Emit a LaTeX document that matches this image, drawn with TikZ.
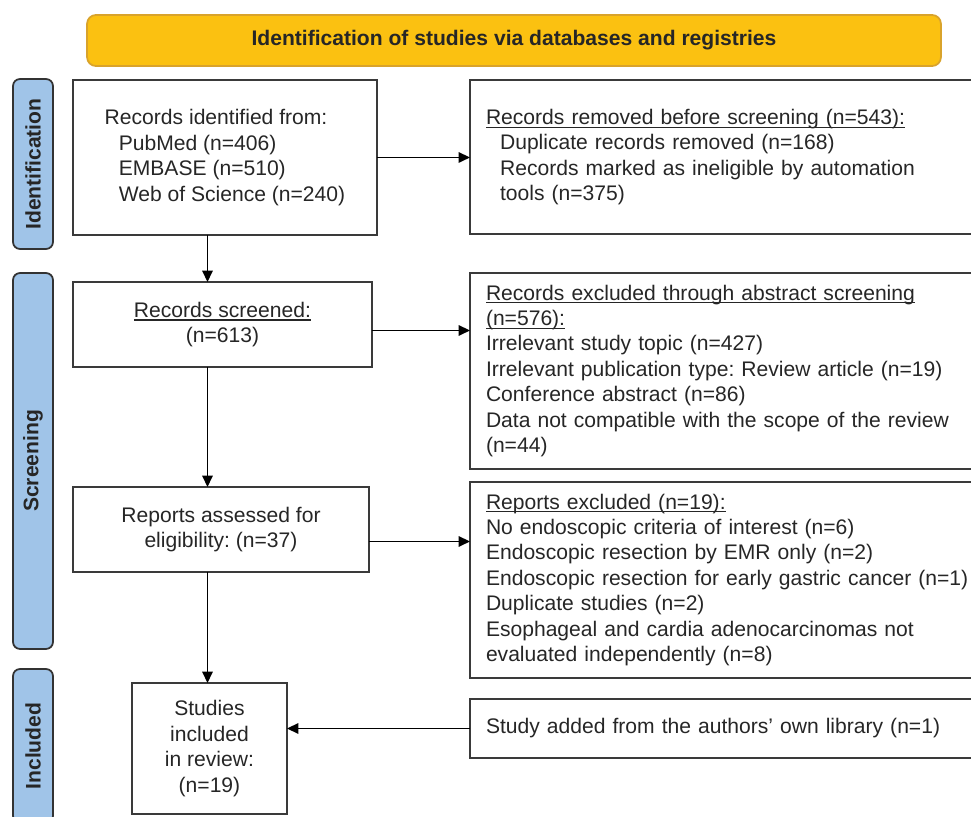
\documentclass[tikz,border=0pt]{standalone}
\usepackage{fontspec}
\setmainfont{Liberation Sans}
\usetikzlibrary{arrows.meta,positioning}

\definecolor{hdryellow}{HTML}{FBC111}
\definecolor{hdrborder}{HTML}{D9A32B}
\definecolor{sideblue}{HTML}{A0C4E8}
\definecolor{sidegrey}{HTML}{333333}
\definecolor{boxgrey}{HTML}{3A3A3A}
\definecolor{inkgrey}{HTML}{262626}
\newcommand{\subind}{\hspace*{8pt}}
\newcommand{\ultext}[1]{\leavevmode\setbox0\hbox{#1}\rlap{\rule[-1.9pt]{\wd0}{0.6pt}}\box0}
\frenchspacing

\begin{document}
\begin{tikzpicture}[x=0.02cm,y=-0.02cm,
  every node/.style={font=\fontsize{12}{14.5}\selectfont, text=inkgrey, outer sep=0pt},
  box/.style={draw=boxgrey, line width=1pt, anchor=north west, inner sep=0pt},
  rbox/.style={box, text width=9.96cm, inner xsep=0.32cm, align=left, minimum width=10.6cm},
  sidebar/.style={draw=sidegrey, fill=sideblue, rounded corners=4pt, line width=1pt, rotate=90, minimum height=0.8cm, inner sep=0pt, font=\fontsize{12}{14.5}\selectfont\bfseries},
  arr/.style={-{Triangle[length=6.5pt,width=6pt]}, line width=0.8pt, draw=black}]
\clip (0,0) rectangle (971,817);
% header and phase bars
\node[draw=hdrborder, fill=hdryellow, rounded corners=5pt, line width=1pt, minimum width=17.08cm, minimum height=1.02cm, font=\fontsize{12}{14.5}\selectfont\bfseries] (header) at (514,40.5) {Identification of studies via databases and registries};
\node[sidebar, minimum width=3.4cm] (identbar) at (33,164) {Identification};
\node[sidebar, minimum width=7.52cm] (screenbar) at (33,461) {Screening};
\node[sidebar, minimum width=3.08cm] (inclbar) at (33,746) {Included};
% left column
\node[box, align=left, minimum width=6.08cm, minimum height=3.1cm] (ident) at (73,80) {Records identified from:\\ \subind PubMed (n=406)\\ \subind EMBASE (n=510)\\ \subind Web of Science (n=240)};
\node[box, align=center, minimum width=5.98cm, minimum height=1.7cm] (screened) at (73,282) {\ultext{Records screened:}\\(n=613)};
\node[box, align=center, minimum width=5.92cm, minimum height=1.7cm] (assessed) at (73,487) {Reports assessed for\\eligibility: (n=37)};
\node[box, align=center, minimum width=3.1cm, minimum height=2.62cm] (included) at (132,683) {Studies\\included\\in review:\\(n=19)};
% right column
\node[rbox, minimum height=3.08cm] (removed) at (470,80) {\ultext{Records removed before screening (n=543):}\\ \subind Duplicate records removed (n=168)\\ \subind Records marked as ineligible by automation\\ \subind tools (n=375)};
\node[rbox, minimum height=3.92cm] (exclabs) at (470,273) {\ultext{Records excluded through abstract screening}\\ \ultext{(n=576):}\\ Irrelevant study topic (n=427)\\ Irrelevant publication type: Review article (n=19)\\ Conference abstract (n=86)\\ Data not compatible with the scope of the review\\ (n=44)};
\node[rbox, minimum height=3.92cm] (exclrep) at (470,482) {\ultext{Reports excluded (n=19):}\\ No endoscopic criteria of interest (n=6)\\ Endoscopic resection by EMR only (n=2)\\ Endoscopic resection for early gastric cancer (n=1)\\ Duplicate studies (n=2)\\ Esophageal and cardia adenocarcinomas not\\ evaluated independently (n=8)};
\node[rbox, minimum height=1.18cm] (added) at (470,699) {Study added from the authors’ own library (n=1)};
% connectors
\coordinate (spine) at (207.5,0);
\draw[arr] (ident.east) -- (removed.west |- ident.east);
\draw[arr] (ident.south -| spine) -- (screened.north -| spine);
\draw[arr] ([yshift=-0.12cm]screened.east) -- ([yshift=-0.12cm]exclabs.west |- screened.east);
\draw[arr] (screened.south -| spine) -- (assessed.north -| spine);
\draw[arr] ([yshift=-0.24cm]assessed.east) -- ([yshift=-0.24cm]exclrep.west |- assessed.east);
\draw[arr] (assessed.south -| spine) -- (included.north -| spine);
\draw[arr] (added.west) -- (included.east |- added.west);
\end{tikzpicture}
\end{document}
